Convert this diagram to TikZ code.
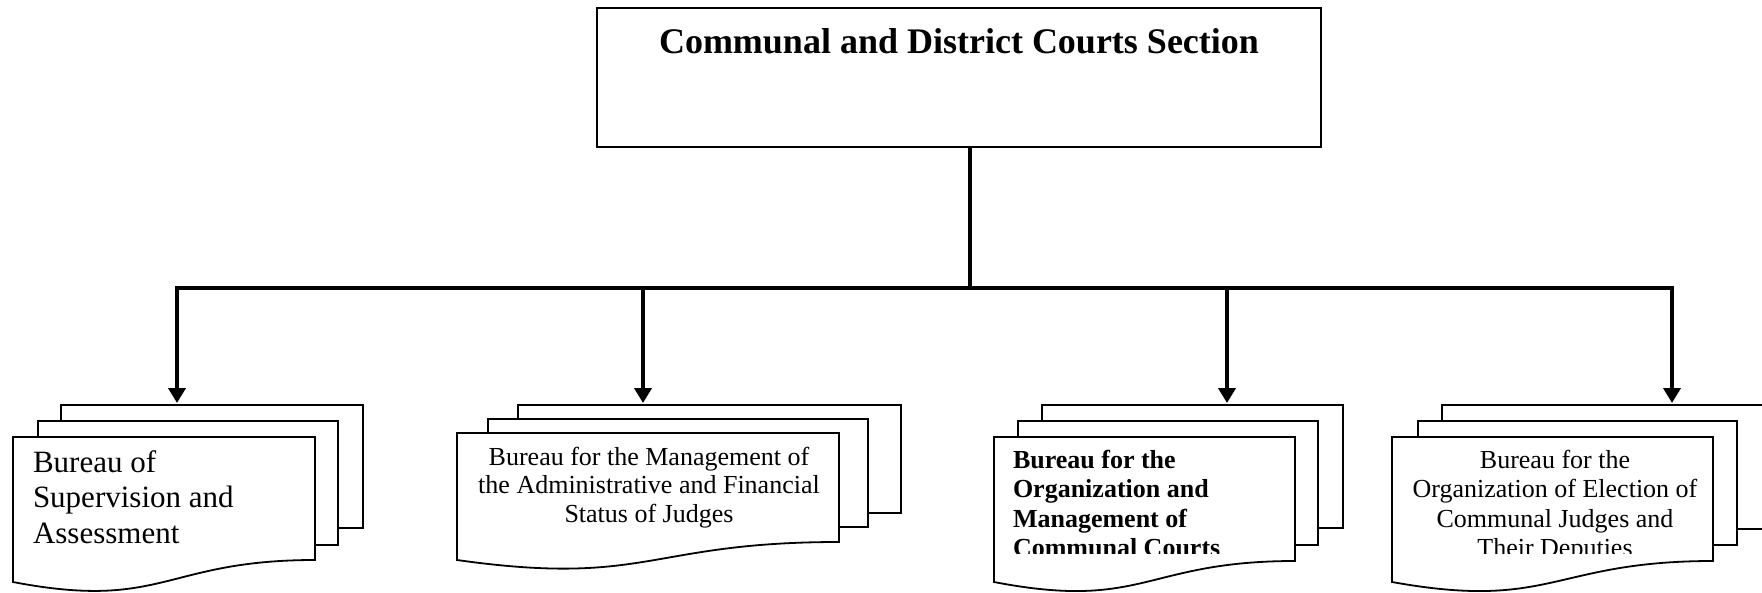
\documentclass[tikz,border=0pt]{standalone}
\usepackage{fontspec}
\setmainfont{Liberation Serif}
\usetikzlibrary{arrows.meta}

\tikzset{
  sheet/.style={draw=black, fill=white, line width=1.8pt, line join=miter},
  topbox/.style={draw=black, line width=1.8pt, inner sep=0pt},
  conn/.style={draw=black, line width=4.5pt},
  tip/.style={-{Triangle[width=17pt,length=15pt]}},
  label/.style={inner sep=0pt, outer sep=0pt},
}

\begin{document}
\begin{tikzpicture}[x=1pt,y=-1pt]
\useasboundingbox (0,0) rectangle (1762,592);
\clip (0,0) rectangle (1762,592);

% head box and its title
\node[topbox, minimum width=724pt, minimum height=139pt] (top) at (959,77.5) {};
\node[label, anchor=base, font=\fontsize{36}{40}\selectfont\bfseries] (title) at (959,53)
  {Communal and District Courts Section};

% connector points
\coordinate (stemtop) at (970,147);
\coordinate (stembot) at (970,288);
\coordinate (a1) at (177,403);
\coordinate (a2) at (643,403);
\coordinate (a3) at (1227,403);
\coordinate (a4) at (1672,403);

% bureau 1: stacked document sheets
\draw[sheet] (61,405) rectangle (363,528);
\draw[sheet] (38,421) rectangle (338,545);
\draw[sheet] (13,437) -- (315,437) -- (315,560)
  .. controls (164,560) and (164,611) .. (13,582) -- cycle;
\node[label, anchor=base west, font=\fontsize{31}{35.5}\selectfont] (b1) at (33,472)
  {\parbox[t]{270pt}{\raggedright Bureau of\\Supervision and\\Assessment}};

% bureau 2
\draw[sheet] (518,405) rectangle (901,513);
\draw[sheet] (488,419) rectangle (868,527);
\draw[sheet] (457,433) -- (839,433) -- (839,542)
  .. controls (648,542) and (648,587) .. (457,560) -- cycle;
\node[label, anchor=base, font=\fontsize{26}{28.5}\selectfont] (b2) at (649,465)
  {\parbox[t]{380pt}{\centering Bureau for the Management of\\the Administrative and Financial\\Status of Judges}};

% bureau 3
\draw[sheet] (1042,405) rectangle (1343,528);
\draw[sheet] (1018,421) rectangle (1318,545);
\draw[sheet] (994,437) -- (1295,437) -- (1295,561)
  .. controls (1144.5,561) and (1144.5,611) .. (994,582) -- cycle;
\begin{scope}
  \clip (996,439) rectangle (1293,553);
  \node[label, anchor=base west, font=\fontsize{26}{29.5}\selectfont\bfseries] (b3) at (1013,468)
    {\parbox[t]{280pt}{\raggedright Bureau for the\\Organization and\\Management of\\Communal Courts}};
\end{scope}

% bureau 4
\draw[sheet] (1442,405) rectangle (1775,529);
\draw[sheet] (1418,421) rectangle (1737,545);
\draw[sheet] (1392,437) -- (1713,437) -- (1713,561)
  .. controls (1552.5,561) and (1552.5,611) .. (1392,582) -- cycle;
\begin{scope}
  \clip (1394,439) rectangle (1711,553);
  \node[label, anchor=base, font=\fontsize{26}{29.5}\selectfont] (b4) at (1555,468)
    {\parbox[t]{310pt}{\centering Bureau for the\\Organization of Election of\\Communal Judges and\\Their Deputies}};
\end{scope}

% connectors
\draw[conn] (stemtop) -- (stembot);
\draw[conn, line cap=rect] (a1 |- stembot) -- (a4 |- stembot);
\draw[conn, tip] (a1 |- stembot) -- (a1);
\draw[conn, tip] (a2 |- stembot) -- (a2);
\draw[conn, tip] (a3 |- stembot) -- (a3);
\draw[conn, tip] (a4 |- stembot) -- (a4);
\end{tikzpicture}
\end{document}
